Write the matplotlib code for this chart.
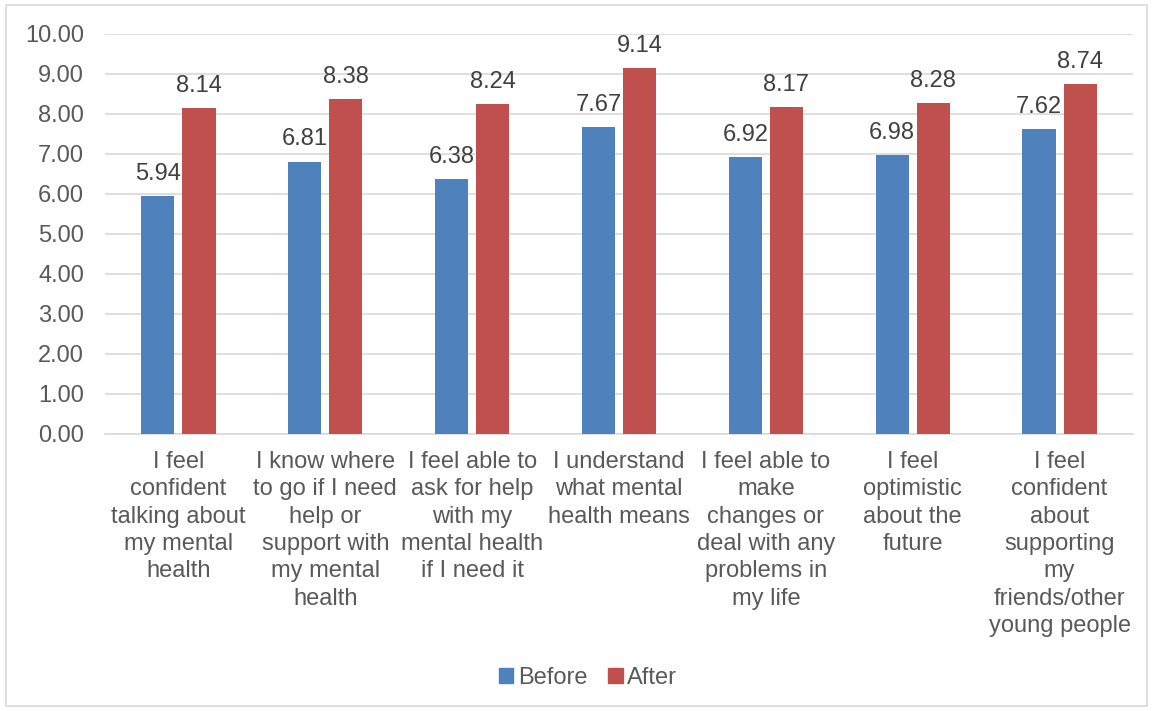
import matplotlib
matplotlib.use("Agg")
import matplotlib.pyplot as plt
import numpy as np
from matplotlib.patches import Rectangle, Patch

plt.rcParams['font.family'] = ['Liberation Sans', 'DejaVu Sans']

categories = [
    "I feel\nconfident\ntalking about\nmy mental\nhealth",
    "I know where\nto go if I need\nhelp or\nsupport with\nmy mental\nhealth",
    "I feel able to\nask for help\nwith my\nmental health\nif I need it",
    "I understand\nwhat mental\nhealth means",
    "I feel able to\nmake\nchanges or\ndeal with any\nproblems in\nmy life",
    "I feel\noptimistic\nabout the\nfuture",
    "I feel\nconfident\nabout\nsupporting\nmy\nfriends/other\nyoung people",
]
before = [5.94, 6.81, 6.38, 7.67, 6.92, 6.98, 7.62]
after = [8.14, 8.38, 8.24, 9.14, 8.17, 8.28, 8.74]
series_names = ["Before", "After"]
yticks = [0, 1, 2, 3, 4, 5, 6, 7, 8, 9, 10]

W, H = 1152, 711
fig = plt.figure(figsize=(W/100, H/100), dpi=100)
ax = fig.add_axes([105/W, 1-434/H, (1133-105)/W, (434-34)/H])

x = np.arange(len(categories))
bw = 0.225
gap = 0.055
c_before = "#4F81BD"
c_after = "#C0504D"
b1 = ax.bar(x - (bw+gap)/2, before, bw, color=c_before, zorder=3)
b2 = ax.bar(x + (bw+gap)/2, after, bw, color=c_after, zorder=3)

fs = 17
for bars in (b1, b2):
    ax.bar_label(bars, labels=[f"{v:.2f}" for v in bars.datavalues], padding=8,
                 fontsize=fs, color="#404040")

ax.set_xlim(-0.5, len(categories)-0.5)
ax.set_ylim(0, 10)
ax.set_yticks(yticks)
ax.set_yticklabels([f"{v:.2f}" for v in yticks], fontsize=fs, color="#595959")
ax.set_xticks(x)
ax.set_xticklabels(categories, fontsize=fs, color="#595959", linespacing=1.32, va="top")
ax.tick_params(axis='both', length=0)
ax.tick_params(axis='y', pad=15)
ax.tick_params(axis='x', pad=12)
ax.grid(axis='y', color="#D9D9D9", linewidth=1.2, zorder=0)
for s in ['top', 'right', 'left']:
    ax.spines[s].set_visible(False)
ax.spines['bottom'].set_color("#D9D9D9")
ax.spines['bottom'].set_linewidth(1.2)

handles = [Patch(color=c_before), Patch(color=c_after)]
fig.legend(handles, series_names, loc="center", bbox_to_anchor=(588/W, 1-678/H),
           ncol=2, frameon=False, fontsize=fs, labelcolor="#595959",
           handlelength=0.6, handleheight=0.6, handletextpad=0.2, columnspacing=0.9)

fig.patches.append(Rectangle((6/W, 1-706/H), (1147-6)/W, (706-5)/H, transform=fig.transFigure,
                             fill=False, edgecolor="#D9D9D9", linewidth=1.2))

fig.savefig("out.png", dpi=100, facecolor="white")
